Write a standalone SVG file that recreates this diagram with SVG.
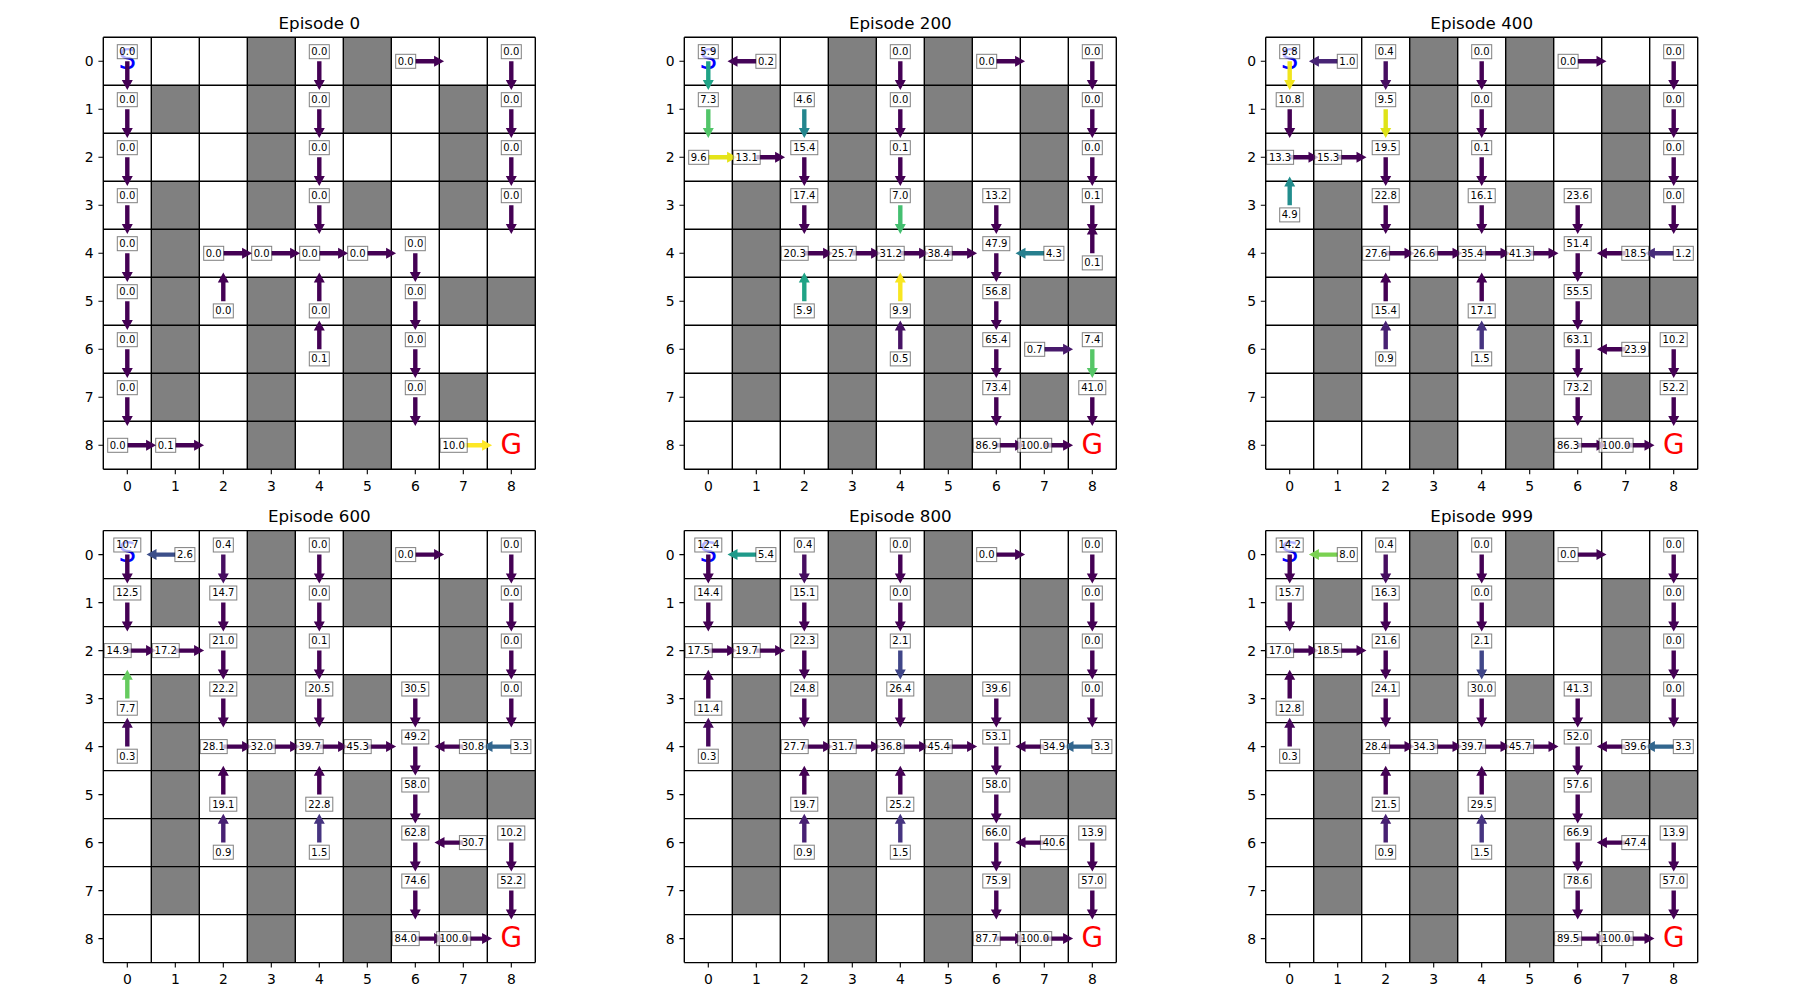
<svg xmlns="http://www.w3.org/2000/svg" xmlns:xlink="http://www.w3.org/1999/xlink" width="1800" height="1000" viewBox="0 0 1800 1000">
<style>
.gr{fill:#808080}
.ln{stroke:#000;stroke-width:1.4;fill:none}
.tk{stroke:#000;stroke-width:1.1;fill:none}
.tl text{font-family:"DejaVu Sans",sans-serif;font-size:13.9px;fill:#000;dominant-baseline:central}
.yl{text-anchor:end}
.xl{text-anchor:middle}
.tt{font-family:"DejaVu Sans",sans-serif;font-size:16.7px;fill:#000;text-anchor:middle}
.bx{fill:#fff;fill-opacity:.7;stroke:#000;stroke-opacity:.5;stroke-width:1}
.lb text{font-family:"DejaVu Sans",sans-serif;font-size:10px;fill:#000;text-anchor:middle;dominant-baseline:central}
.S{font-family:"DejaVu Sans",sans-serif;font-size:27.8px;fill:#0000ff;text-anchor:middle}
.G{font-family:"DejaVu Sans",sans-serif;font-size:27.8px;fill:#ff0000;text-anchor:middle}
</style>
<defs>
<path id="D" d="M-2.2,0H2.2V18.8H5.5L0,28.8L-5.5,18.8H-2.2Z"/>
<path id="U" d="M-2.2,0H2.2V-18.8H5.5L0,-28.8L-5.5,-18.8H-2.2Z"/>
<path id="R" d="M0,-2.2V2.2H18.8V5.5L28.8,0L18.8,-5.5V-2.2Z"/>
<path id="L" d="M0,-2.2V2.2H-18.8V5.5L-28.8,0L-18.8,-5.5V-2.2Z"/>
<rect id="b3" class="bx" x="-10" y="-7" width="20" height="14"/>
<rect id="b4" class="bx" x="-13.5" y="-7" width="27" height="14"/>
<rect id="b5" class="bx" x="-17" y="-7" width="34" height="14"/>
<g id="grid">
<rect width="432" height="432" fill="#fff"/>
<path class="gr" d="M48,48h48v48h-48z M48,144h48v240h-48z M144,0h48v192h-48z M144,240h48v192h-48z M240,0h48v96h-48z M240,144h48v48h-48z M240,240h48v192h-48z M336,48h48v144h-48z M336,240h96v48h-96z M336,336h48v48h-48z"/>
<path class="ln" d="M0,0H432M0,48H432M0,96H432M0,144H432M0,192H432M0,240H432M0,288H432M0,336H432M0,384H432M0,432H432M0,0V432M48,0V432M96,0V432M144,0V432M192,0V432M240,0V432M288,0V432M336,0V432M384,0V432M432,0V432"/>
<path class="tk" d="M-4.9,24H0M-4.9,72H0M-4.9,120H0M-4.9,168H0M-4.9,216H0M-4.9,264H0M-4.9,312H0M-4.9,360H0M-4.9,408H0M24,432V436.9M72,432V436.9M120,432V436.9M168,432V436.9M216,432V436.9M264,432V436.9M312,432V436.9M360,432V436.9M408,432V436.9"/>
</g>
</defs>
<rect width="1800" height="1000" fill="#fff"/>

<!-- Episode 0 -->
<g id="ep0" transform="translate(103.3,37.3)">
<text class="tt" x="216" y="-8.3">Episode 0</text>
<use href="#grid"/>
<g class="tl">
<text class="yl" x="-9.7" y="24">0</text><text class="yl" x="-9.7" y="72">1</text><text class="yl" x="-9.7" y="120">2</text><text class="yl" x="-9.7" y="168">3</text><text class="yl" x="-9.7" y="216">4</text><text class="yl" x="-9.7" y="264">5</text><text class="yl" x="-9.7" y="312">6</text><text class="yl" x="-9.7" y="360">7</text><text class="yl" x="-9.7" y="408">8</text>
<text class="xl" x="24" y="448.3">0</text><text class="xl" x="72" y="448.3">1</text><text class="xl" x="120" y="448.3">2</text><text class="xl" x="168" y="448.3">3</text><text class="xl" x="216" y="448.3">4</text><text class="xl" x="264" y="448.3">5</text><text class="xl" x="312" y="448.3">6</text><text class="xl" x="360" y="448.3">7</text><text class="xl" x="408" y="448.3">8</text>
</g>
<text class="S" x="24" y="31.5">S</text>
<text class="G" x="408" y="416.5">G</text>
<g id="ep0-arrows" fill="#440154">
<use href="#D" x="24" y="24"/><use href="#D" x="216" y="24"/><use href="#R" x="312" y="24"/><use href="#D" x="408" y="24"/>
<use href="#D" x="24" y="72"/><use href="#D" x="216" y="72"/><use href="#D" x="408" y="72"/>
<use href="#D" x="24" y="120"/><use href="#D" x="216" y="120"/><use href="#D" x="408" y="120"/>
<use href="#D" x="24" y="168"/><use href="#D" x="216" y="168"/><use href="#D" x="408" y="168"/>
<use href="#D" x="24" y="216"/><use href="#R" x="120" y="216"/><use href="#R" x="168" y="216"/><use href="#R" x="216" y="216"/><use href="#R" x="264" y="216"/><use href="#D" x="312" y="216"/>
<use href="#D" x="24" y="264"/><use href="#U" x="120" y="264"/><use href="#U" x="216" y="264"/><use href="#D" x="312" y="264"/>
<use href="#D" x="24" y="312"/><use href="#U" x="216" y="312"/><use href="#D" x="312" y="312"/>
<use href="#D" x="24" y="360"/><use href="#D" x="312" y="360"/>
<use href="#R" x="24" y="408"/><use href="#R" x="72" y="408"/><use href="#R" x="360" y="408" fill="#fde725"/>
</g>
<g class="lb">
<use href="#b3" x="24" y="14.4"/><text x="24" y="14.4">0.0</text>
<use href="#b3" x="216" y="14.4"/><text x="216" y="14.4">0.0</text>
<use href="#b3" x="302.4" y="24"/><text x="302.4" y="24">0.0</text>
<use href="#b3" x="408" y="14.4"/><text x="408" y="14.4">0.0</text>
<use href="#b3" x="24" y="62.4"/><text x="24" y="62.4">0.0</text>
<use href="#b3" x="216" y="62.4"/><text x="216" y="62.4">0.0</text>
<use href="#b3" x="408" y="62.4"/><text x="408" y="62.4">0.0</text>
<use href="#b3" x="24" y="110.4"/><text x="24" y="110.4">0.0</text>
<use href="#b3" x="216" y="110.4"/><text x="216" y="110.4">0.0</text>
<use href="#b3" x="408" y="110.4"/><text x="408" y="110.4">0.0</text>
<use href="#b3" x="24" y="158.4"/><text x="24" y="158.4">0.0</text>
<use href="#b3" x="216" y="158.4"/><text x="216" y="158.4">0.0</text>
<use href="#b3" x="408" y="158.4"/><text x="408" y="158.4">0.0</text>
<use href="#b3" x="24" y="206.4"/><text x="24" y="206.4">0.0</text>
<use href="#b3" x="110.4" y="216"/><text x="110.4" y="216">0.0</text>
<use href="#b3" x="158.4" y="216"/><text x="158.4" y="216">0.0</text>
<use href="#b3" x="206.4" y="216"/><text x="206.4" y="216">0.0</text>
<use href="#b3" x="254.4" y="216"/><text x="254.4" y="216">0.0</text>
<use href="#b3" x="312" y="206.4"/><text x="312" y="206.4">0.0</text>
<use href="#b3" x="24" y="254.4"/><text x="24" y="254.4">0.0</text>
<use href="#b3" x="120" y="273.6"/><text x="120" y="273.6">0.0</text>
<use href="#b3" x="216" y="273.6"/><text x="216" y="273.6">0.0</text>
<use href="#b3" x="312" y="254.4"/><text x="312" y="254.4">0.0</text>
<use href="#b3" x="24" y="302.4"/><text x="24" y="302.4">0.0</text>
<use href="#b3" x="216" y="321.6"/><text x="216" y="321.6">0.1</text>
<use href="#b3" x="312" y="302.4"/><text x="312" y="302.4">0.0</text>
<use href="#b3" x="24" y="350.4"/><text x="24" y="350.4">0.0</text>
<use href="#b3" x="312" y="350.4"/><text x="312" y="350.4">0.0</text>
<use href="#b3" x="14.4" y="408"/><text x="14.4" y="408">0.0</text>
<use href="#b3" x="62.4" y="408"/><text x="62.4" y="408">0.1</text>
<use href="#b4" x="350.4" y="408"/><text x="350.4" y="408">10.0</text>
</g>
</g>

<!-- Episode 200 -->
<g id="ep200" transform="translate(684.3,37.3)">
<text class="tt" x="216" y="-8.3">Episode 200</text>
<use href="#grid"/>
<g class="tl">
<text class="yl" x="-9.7" y="24">0</text><text class="yl" x="-9.7" y="72">1</text><text class="yl" x="-9.7" y="120">2</text><text class="yl" x="-9.7" y="168">3</text><text class="yl" x="-9.7" y="216">4</text><text class="yl" x="-9.7" y="264">5</text><text class="yl" x="-9.7" y="312">6</text><text class="yl" x="-9.7" y="360">7</text><text class="yl" x="-9.7" y="408">8</text>
<text class="xl" x="24" y="448.3">0</text><text class="xl" x="72" y="448.3">1</text><text class="xl" x="120" y="448.3">2</text><text class="xl" x="168" y="448.3">3</text><text class="xl" x="216" y="448.3">4</text><text class="xl" x="264" y="448.3">5</text><text class="xl" x="312" y="448.3">6</text><text class="xl" x="360" y="448.3">7</text><text class="xl" x="408" y="448.3">8</text>
</g>
<text class="S" x="24" y="31.5">S</text>
<text class="G" x="408" y="416.5">G</text>
<g id="ep200-arrows" fill="#440154">
<use href="#D" x="24" y="24" fill="#20a386"/><use href="#L" x="72" y="24" fill="#450559"/><use href="#D" x="216" y="24"/><use href="#R" x="312" y="24"/><use href="#D" x="408" y="24"/>
<use href="#D" x="24" y="72" fill="#52c569"/><use href="#D" x="120" y="72" fill="#24868e"/><use href="#D" x="216" y="72"/><use href="#D" x="408" y="72"/>
<use href="#R" x="24" y="120" fill="#e5e419"/><use href="#R" x="72" y="120"/><use href="#D" x="120" y="120"/><use href="#D" x="216" y="120"/><use href="#D" x="408" y="120"/>
<use href="#D" x="120" y="168"/><use href="#D" x="216" y="168" fill="#44bf70"/><use href="#D" x="312" y="168"/><use href="#D" x="408" y="168"/>
<use href="#R" x="120" y="216"/><use href="#R" x="168" y="216"/><use href="#R" x="216" y="216"/><use href="#R" x="264" y="216"/><use href="#D" x="312" y="216"/><use href="#L" x="360" y="216" fill="#277f8e"/><use href="#U" x="408" y="216"/>
<use href="#U" x="120" y="264" fill="#20a386"/><use href="#U" x="216" y="264" fill="#f8e621"/><use href="#D" x="312" y="264"/>
<use href="#U" x="216" y="312" fill="#471365"/><use href="#D" x="312" y="312"/><use href="#R" x="360" y="312" fill="#481a6c"/><use href="#D" x="408" y="312" fill="#56c667"/>
<use href="#D" x="312" y="360"/><use href="#D" x="408" y="360"/>
<use href="#R" x="312" y="408"/><use href="#R" x="360" y="408"/>
</g>
<g class="lb">
<use href="#b3" x="24" y="14.4"/><text x="24" y="14.4">5.9</text>
<use href="#b3" x="81.6" y="24"/><text x="81.6" y="24">0.2</text>
<use href="#b3" x="216" y="14.4"/><text x="216" y="14.4">0.0</text>
<use href="#b3" x="302.4" y="24"/><text x="302.4" y="24">0.0</text>
<use href="#b3" x="408" y="14.4"/><text x="408" y="14.4">0.0</text>
<use href="#b3" x="24" y="62.4"/><text x="24" y="62.4">7.3</text>
<use href="#b3" x="120" y="62.4"/><text x="120" y="62.4">4.6</text>
<use href="#b3" x="216" y="62.4"/><text x="216" y="62.4">0.0</text>
<use href="#b3" x="408" y="62.4"/><text x="408" y="62.4">0.0</text>
<use href="#b3" x="14.4" y="120"/><text x="14.4" y="120">9.6</text>
<use href="#b4" x="62.4" y="120"/><text x="62.4" y="120">13.1</text>
<use href="#b4" x="120" y="110.4"/><text x="120" y="110.4">15.4</text>
<use href="#b3" x="216" y="110.4"/><text x="216" y="110.4">0.1</text>
<use href="#b3" x="408" y="110.4"/><text x="408" y="110.4">0.0</text>
<use href="#b4" x="120" y="158.4"/><text x="120" y="158.4">17.4</text>
<use href="#b3" x="216" y="158.4"/><text x="216" y="158.4">7.0</text>
<use href="#b4" x="312" y="158.4"/><text x="312" y="158.4">13.2</text>
<use href="#b3" x="408" y="158.4"/><text x="408" y="158.4">0.1</text>
<use href="#b4" x="110.4" y="216"/><text x="110.4" y="216">20.3</text>
<use href="#b4" x="158.4" y="216"/><text x="158.4" y="216">25.7</text>
<use href="#b4" x="206.4" y="216"/><text x="206.4" y="216">31.2</text>
<use href="#b4" x="254.4" y="216"/><text x="254.4" y="216">38.4</text>
<use href="#b4" x="312" y="206.4"/><text x="312" y="206.4">47.9</text>
<use href="#b3" x="369.6" y="216"/><text x="369.6" y="216">4.3</text>
<use href="#b3" x="408" y="225.6"/><text x="408" y="225.6">0.1</text>
<use href="#b3" x="120" y="273.6"/><text x="120" y="273.6">5.9</text>
<use href="#b3" x="216" y="273.6"/><text x="216" y="273.6">9.9</text>
<use href="#b4" x="312" y="254.4"/><text x="312" y="254.4">56.8</text>
<use href="#b3" x="216" y="321.6"/><text x="216" y="321.6">0.5</text>
<use href="#b4" x="312" y="302.4"/><text x="312" y="302.4">65.4</text>
<use href="#b3" x="350.4" y="312"/><text x="350.4" y="312">0.7</text>
<use href="#b3" x="408" y="302.4"/><text x="408" y="302.4">7.4</text>
<use href="#b4" x="312" y="350.4"/><text x="312" y="350.4">73.4</text>
<use href="#b4" x="408" y="350.4"/><text x="408" y="350.4">41.0</text>
<use href="#b4" x="302.4" y="408"/><text x="302.4" y="408">86.9</text>
<use href="#b5" x="350.4" y="408"/><text x="350.4" y="408">100.0</text>
</g>
</g>

<!-- Episode 400 -->
<g id="ep400" transform="translate(1265.7,37.3)">
<text class="tt" x="216" y="-8.3">Episode 400</text>
<use href="#grid"/>
<g class="tl">
<text class="yl" x="-9.7" y="24">0</text><text class="yl" x="-9.7" y="72">1</text><text class="yl" x="-9.7" y="120">2</text><text class="yl" x="-9.7" y="168">3</text><text class="yl" x="-9.7" y="216">4</text><text class="yl" x="-9.7" y="264">5</text><text class="yl" x="-9.7" y="312">6</text><text class="yl" x="-9.7" y="360">7</text><text class="yl" x="-9.7" y="408">8</text>
<text class="xl" x="24" y="448.3">0</text><text class="xl" x="72" y="448.3">1</text><text class="xl" x="120" y="448.3">2</text><text class="xl" x="168" y="448.3">3</text><text class="xl" x="216" y="448.3">4</text><text class="xl" x="264" y="448.3">5</text><text class="xl" x="312" y="448.3">6</text><text class="xl" x="360" y="448.3">7</text><text class="xl" x="408" y="448.3">8</text>
</g>
<text class="S" x="24" y="31.5">S</text>
<text class="G" x="408" y="416.5">G</text>
<g id="ep400-arrows" fill="#440154">
<use href="#D" x="24" y="24" fill="#f1e51d"/><use href="#L" x="72" y="24" fill="#482475"/><use href="#D" x="120" y="24" fill="#470e61"/><use href="#D" x="216" y="24"/><use href="#R" x="312" y="24"/><use href="#D" x="408" y="24"/>
<use href="#D" x="24" y="72"/><use href="#D" x="120" y="72" fill="#dfe318"/><use href="#D" x="216" y="72"/><use href="#D" x="408" y="72"/>
<use href="#R" x="24" y="120"/><use href="#R" x="72" y="120"/><use href="#D" x="120" y="120"/><use href="#D" x="216" y="120"/><use href="#D" x="408" y="120"/>
<use href="#U" x="24" y="168" fill="#228d8d"/><use href="#D" x="120" y="168"/><use href="#D" x="216" y="168"/><use href="#D" x="312" y="168"/><use href="#D" x="408" y="168"/>
<use href="#R" x="120" y="216"/><use href="#R" x="168" y="216"/><use href="#R" x="216" y="216"/><use href="#R" x="264" y="216"/><use href="#D" x="312" y="216"/><use href="#L" x="360" y="216"/><use href="#L" x="408" y="216" fill="#472c7a"/>
<use href="#U" x="120" y="264"/><use href="#U" x="216" y="264"/><use href="#D" x="312" y="264"/>
<use href="#U" x="120" y="312" fill="#482173"/><use href="#U" x="216" y="312" fill="#463480"/><use href="#D" x="312" y="312"/><use href="#L" x="360" y="312"/><use href="#D" x="408" y="312"/>
<use href="#D" x="312" y="360"/><use href="#D" x="408" y="360"/>
<use href="#R" x="312" y="408"/><use href="#R" x="360" y="408"/>
</g>
<g class="lb">
<use href="#b3" x="24" y="14.4"/><text x="24" y="14.4">9.8</text>
<use href="#b3" x="81.6" y="24"/><text x="81.6" y="24">1.0</text>
<use href="#b3" x="120" y="14.4"/><text x="120" y="14.4">0.4</text>
<use href="#b3" x="216" y="14.4"/><text x="216" y="14.4">0.0</text>
<use href="#b3" x="302.4" y="24"/><text x="302.4" y="24">0.0</text>
<use href="#b3" x="408" y="14.4"/><text x="408" y="14.4">0.0</text>
<use href="#b4" x="24" y="62.4"/><text x="24" y="62.4">10.8</text>
<use href="#b3" x="120" y="62.4"/><text x="120" y="62.4">9.5</text>
<use href="#b3" x="216" y="62.4"/><text x="216" y="62.4">0.0</text>
<use href="#b3" x="408" y="62.4"/><text x="408" y="62.4">0.0</text>
<use href="#b4" x="14.4" y="120"/><text x="14.4" y="120">13.3</text>
<use href="#b4" x="62.4" y="120"/><text x="62.4" y="120">15.3</text>
<use href="#b4" x="120" y="110.4"/><text x="120" y="110.4">19.5</text>
<use href="#b3" x="216" y="110.4"/><text x="216" y="110.4">0.1</text>
<use href="#b3" x="408" y="110.4"/><text x="408" y="110.4">0.0</text>
<use href="#b3" x="24" y="177.6"/><text x="24" y="177.6">4.9</text>
<use href="#b4" x="120" y="158.4"/><text x="120" y="158.4">22.8</text>
<use href="#b4" x="216" y="158.4"/><text x="216" y="158.4">16.1</text>
<use href="#b4" x="312" y="158.4"/><text x="312" y="158.4">23.6</text>
<use href="#b3" x="408" y="158.4"/><text x="408" y="158.4">0.0</text>
<use href="#b4" x="110.4" y="216"/><text x="110.4" y="216">27.6</text>
<use href="#b4" x="158.4" y="216"/><text x="158.4" y="216">26.6</text>
<use href="#b4" x="206.4" y="216"/><text x="206.4" y="216">35.4</text>
<use href="#b4" x="254.4" y="216"/><text x="254.4" y="216">41.3</text>
<use href="#b4" x="312" y="206.4"/><text x="312" y="206.4">51.4</text>
<use href="#b4" x="369.6" y="216"/><text x="369.6" y="216">18.5</text>
<use href="#b3" x="417.6" y="216"/><text x="417.6" y="216">1.2</text>
<use href="#b4" x="120" y="273.6"/><text x="120" y="273.6">15.4</text>
<use href="#b4" x="216" y="273.6"/><text x="216" y="273.6">17.1</text>
<use href="#b4" x="312" y="254.4"/><text x="312" y="254.4">55.5</text>
<use href="#b3" x="120" y="321.6"/><text x="120" y="321.6">0.9</text>
<use href="#b3" x="216" y="321.6"/><text x="216" y="321.6">1.5</text>
<use href="#b4" x="312" y="302.4"/><text x="312" y="302.4">63.1</text>
<use href="#b4" x="369.6" y="312"/><text x="369.6" y="312">23.9</text>
<use href="#b4" x="408" y="302.4"/><text x="408" y="302.4">10.2</text>
<use href="#b4" x="312" y="350.4"/><text x="312" y="350.4">73.2</text>
<use href="#b4" x="408" y="350.4"/><text x="408" y="350.4">52.2</text>
<use href="#b4" x="302.4" y="408"/><text x="302.4" y="408">86.3</text>
<use href="#b5" x="350.4" y="408"/><text x="350.4" y="408">100.0</text>
</g>
</g>

<!-- Episode 600 -->
<g id="ep600" transform="translate(103.3,530.6)">
<text class="tt" x="216" y="-8.3">Episode 600</text>
<use href="#grid"/>
<g class="tl">
<text class="yl" x="-9.7" y="24">0</text><text class="yl" x="-9.7" y="72">1</text><text class="yl" x="-9.7" y="120">2</text><text class="yl" x="-9.7" y="168">3</text><text class="yl" x="-9.7" y="216">4</text><text class="yl" x="-9.7" y="264">5</text><text class="yl" x="-9.7" y="312">6</text><text class="yl" x="-9.7" y="360">7</text><text class="yl" x="-9.7" y="408">8</text>
<text class="xl" x="24" y="448.3">0</text><text class="xl" x="72" y="448.3">1</text><text class="xl" x="120" y="448.3">2</text><text class="xl" x="168" y="448.3">3</text><text class="xl" x="216" y="448.3">4</text><text class="xl" x="264" y="448.3">5</text><text class="xl" x="312" y="448.3">6</text><text class="xl" x="360" y="448.3">7</text><text class="xl" x="408" y="448.3">8</text>
</g>
<text class="S" x="24" y="31.5">S</text>
<text class="G" x="408" y="416.5">G</text>
<g id="ep600-arrows" fill="#440154">
<use href="#D" x="24" y="24"/><use href="#L" x="72" y="24" fill="#3c4f8a"/><use href="#D" x="120" y="24" fill="#470e61"/><use href="#D" x="216" y="24"/><use href="#R" x="312" y="24"/><use href="#D" x="408" y="24"/>
<use href="#D" x="24" y="72"/><use href="#D" x="120" y="72"/><use href="#D" x="216" y="72"/><use href="#D" x="408" y="72"/>
<use href="#R" x="24" y="120"/><use href="#R" x="72" y="120"/><use href="#D" x="120" y="120"/><use href="#D" x="216" y="120"/><use href="#D" x="408" y="120"/>
<use href="#U" x="24" y="168" fill="#65cb5e"/><use href="#D" x="120" y="168"/><use href="#D" x="216" y="168"/><use href="#D" x="312" y="168"/><use href="#D" x="408" y="168"/>
<use href="#U" x="24" y="216" fill="#46085c"/><use href="#R" x="120" y="216"/><use href="#R" x="168" y="216"/><use href="#R" x="216" y="216"/><use href="#R" x="264" y="216"/><use href="#D" x="312" y="216"/><use href="#L" x="360" y="216"/><use href="#L" x="408" y="216" fill="#32668e"/>
<use href="#U" x="120" y="264"/><use href="#U" x="216" y="264"/><use href="#D" x="312" y="264"/>
<use href="#U" x="120" y="312" fill="#482173"/><use href="#U" x="216" y="312" fill="#463480"/><use href="#D" x="312" y="312"/><use href="#L" x="360" y="312"/><use href="#D" x="408" y="312"/>
<use href="#D" x="312" y="360"/><use href="#D" x="408" y="360"/>
<use href="#R" x="312" y="408"/><use href="#R" x="360" y="408"/>
</g>
<g class="lb">
<use href="#b4" x="24" y="14.4"/><text x="24" y="14.4">10.7</text>
<use href="#b3" x="81.6" y="24"/><text x="81.6" y="24">2.6</text>
<use href="#b3" x="120" y="14.4"/><text x="120" y="14.4">0.4</text>
<use href="#b3" x="216" y="14.4"/><text x="216" y="14.4">0.0</text>
<use href="#b3" x="302.4" y="24"/><text x="302.4" y="24">0.0</text>
<use href="#b3" x="408" y="14.4"/><text x="408" y="14.4">0.0</text>
<use href="#b4" x="24" y="62.4"/><text x="24" y="62.4">12.5</text>
<use href="#b4" x="120" y="62.4"/><text x="120" y="62.4">14.7</text>
<use href="#b3" x="216" y="62.4"/><text x="216" y="62.4">0.0</text>
<use href="#b3" x="408" y="62.4"/><text x="408" y="62.4">0.0</text>
<use href="#b4" x="14.4" y="120"/><text x="14.4" y="120">14.9</text>
<use href="#b4" x="62.4" y="120"/><text x="62.4" y="120">17.2</text>
<use href="#b4" x="120" y="110.4"/><text x="120" y="110.4">21.0</text>
<use href="#b3" x="216" y="110.4"/><text x="216" y="110.4">0.1</text>
<use href="#b3" x="408" y="110.4"/><text x="408" y="110.4">0.0</text>
<use href="#b3" x="24" y="177.6"/><text x="24" y="177.6">7.7</text>
<use href="#b4" x="120" y="158.4"/><text x="120" y="158.4">22.2</text>
<use href="#b4" x="216" y="158.4"/><text x="216" y="158.4">20.5</text>
<use href="#b4" x="312" y="158.4"/><text x="312" y="158.4">30.5</text>
<use href="#b3" x="408" y="158.4"/><text x="408" y="158.4">0.0</text>
<use href="#b3" x="24" y="225.6"/><text x="24" y="225.6">0.3</text>
<use href="#b4" x="110.4" y="216"/><text x="110.4" y="216">28.1</text>
<use href="#b4" x="158.4" y="216"/><text x="158.4" y="216">32.0</text>
<use href="#b4" x="206.4" y="216"/><text x="206.4" y="216">39.7</text>
<use href="#b4" x="254.4" y="216"/><text x="254.4" y="216">45.3</text>
<use href="#b4" x="312" y="206.4"/><text x="312" y="206.4">49.2</text>
<use href="#b4" x="369.6" y="216"/><text x="369.6" y="216">30.8</text>
<use href="#b3" x="417.6" y="216"/><text x="417.6" y="216">3.3</text>
<use href="#b4" x="120" y="273.6"/><text x="120" y="273.6">19.1</text>
<use href="#b4" x="216" y="273.6"/><text x="216" y="273.6">22.8</text>
<use href="#b4" x="312" y="254.4"/><text x="312" y="254.4">58.0</text>
<use href="#b3" x="120" y="321.6"/><text x="120" y="321.6">0.9</text>
<use href="#b3" x="216" y="321.6"/><text x="216" y="321.6">1.5</text>
<use href="#b4" x="312" y="302.4"/><text x="312" y="302.4">62.8</text>
<use href="#b4" x="369.6" y="312"/><text x="369.6" y="312">30.7</text>
<use href="#b4" x="408" y="302.4"/><text x="408" y="302.4">10.2</text>
<use href="#b4" x="312" y="350.4"/><text x="312" y="350.4">74.6</text>
<use href="#b4" x="408" y="350.4"/><text x="408" y="350.4">52.2</text>
<use href="#b4" x="302.4" y="408"/><text x="302.4" y="408">84.0</text>
<use href="#b5" x="350.4" y="408"/><text x="350.4" y="408">100.0</text>
</g>
</g>

<!-- Episode 800 -->
<g id="ep800" transform="translate(684.3,530.6)">
<text class="tt" x="216" y="-8.3">Episode 800</text>
<use href="#grid"/>
<g class="tl">
<text class="yl" x="-9.7" y="24">0</text><text class="yl" x="-9.7" y="72">1</text><text class="yl" x="-9.7" y="120">2</text><text class="yl" x="-9.7" y="168">3</text><text class="yl" x="-9.7" y="216">4</text><text class="yl" x="-9.7" y="264">5</text><text class="yl" x="-9.7" y="312">6</text><text class="yl" x="-9.7" y="360">7</text><text class="yl" x="-9.7" y="408">8</text>
<text class="xl" x="24" y="448.3">0</text><text class="xl" x="72" y="448.3">1</text><text class="xl" x="120" y="448.3">2</text><text class="xl" x="168" y="448.3">3</text><text class="xl" x="216" y="448.3">4</text><text class="xl" x="264" y="448.3">5</text><text class="xl" x="312" y="448.3">6</text><text class="xl" x="360" y="448.3">7</text><text class="xl" x="408" y="448.3">8</text>
</g>
<text class="S" x="24" y="31.5">S</text>
<text class="G" x="408" y="416.5">G</text>
<g id="ep800-arrows" fill="#440154">
<use href="#D" x="24" y="24"/><use href="#L" x="72" y="24" fill="#1f9a8a"/><use href="#D" x="120" y="24" fill="#470e61"/><use href="#D" x="216" y="24"/><use href="#R" x="312" y="24"/><use href="#D" x="408" y="24"/>
<use href="#D" x="24" y="72"/><use href="#D" x="120" y="72"/><use href="#D" x="216" y="72"/><use href="#D" x="408" y="72"/>
<use href="#R" x="24" y="120"/><use href="#R" x="72" y="120"/><use href="#D" x="120" y="120"/><use href="#D" x="216" y="120" fill="#404688"/><use href="#D" x="408" y="120"/>
<use href="#U" x="24" y="168"/><use href="#D" x="120" y="168"/><use href="#D" x="216" y="168"/><use href="#D" x="312" y="168"/><use href="#D" x="408" y="168"/>
<use href="#U" x="24" y="216" fill="#46085c"/><use href="#R" x="120" y="216"/><use href="#R" x="168" y="216"/><use href="#R" x="216" y="216"/><use href="#R" x="264" y="216"/><use href="#D" x="312" y="216"/><use href="#L" x="360" y="216"/><use href="#L" x="408" y="216" fill="#32668e"/>
<use href="#U" x="120" y="264"/><use href="#U" x="216" y="264"/><use href="#D" x="312" y="264"/>
<use href="#U" x="120" y="312" fill="#482173"/><use href="#U" x="216" y="312" fill="#463480"/><use href="#D" x="312" y="312"/><use href="#L" x="360" y="312"/><use href="#D" x="408" y="312"/>
<use href="#D" x="312" y="360"/><use href="#D" x="408" y="360"/>
<use href="#R" x="312" y="408"/><use href="#R" x="360" y="408"/>
</g>
<g class="lb">
<use href="#b4" x="24" y="14.4"/><text x="24" y="14.4">12.4</text>
<use href="#b3" x="81.6" y="24"/><text x="81.6" y="24">5.4</text>
<use href="#b3" x="120" y="14.4"/><text x="120" y="14.4">0.4</text>
<use href="#b3" x="216" y="14.4"/><text x="216" y="14.4">0.0</text>
<use href="#b3" x="302.4" y="24"/><text x="302.4" y="24">0.0</text>
<use href="#b3" x="408" y="14.4"/><text x="408" y="14.4">0.0</text>
<use href="#b4" x="24" y="62.4"/><text x="24" y="62.4">14.4</text>
<use href="#b4" x="120" y="62.4"/><text x="120" y="62.4">15.1</text>
<use href="#b3" x="216" y="62.4"/><text x="216" y="62.4">0.0</text>
<use href="#b3" x="408" y="62.4"/><text x="408" y="62.4">0.0</text>
<use href="#b4" x="14.4" y="120"/><text x="14.4" y="120">17.5</text>
<use href="#b4" x="62.4" y="120"/><text x="62.4" y="120">19.7</text>
<use href="#b4" x="120" y="110.4"/><text x="120" y="110.4">22.3</text>
<use href="#b3" x="216" y="110.4"/><text x="216" y="110.4">2.1</text>
<use href="#b3" x="408" y="110.4"/><text x="408" y="110.4">0.0</text>
<use href="#b4" x="24" y="177.6"/><text x="24" y="177.6">11.4</text>
<use href="#b4" x="120" y="158.4"/><text x="120" y="158.4">24.8</text>
<use href="#b4" x="216" y="158.4"/><text x="216" y="158.4">26.4</text>
<use href="#b4" x="312" y="158.4"/><text x="312" y="158.4">39.6</text>
<use href="#b3" x="408" y="158.4"/><text x="408" y="158.4">0.0</text>
<use href="#b3" x="24" y="225.6"/><text x="24" y="225.6">0.3</text>
<use href="#b4" x="110.4" y="216"/><text x="110.4" y="216">27.7</text>
<use href="#b4" x="158.4" y="216"/><text x="158.4" y="216">31.7</text>
<use href="#b4" x="206.4" y="216"/><text x="206.4" y="216">36.8</text>
<use href="#b4" x="254.4" y="216"/><text x="254.4" y="216">45.4</text>
<use href="#b4" x="312" y="206.4"/><text x="312" y="206.4">53.1</text>
<use href="#b4" x="369.6" y="216"/><text x="369.6" y="216">34.9</text>
<use href="#b3" x="417.6" y="216"/><text x="417.6" y="216">3.3</text>
<use href="#b4" x="120" y="273.6"/><text x="120" y="273.6">19.7</text>
<use href="#b4" x="216" y="273.6"/><text x="216" y="273.6">25.2</text>
<use href="#b4" x="312" y="254.4"/><text x="312" y="254.4">58.0</text>
<use href="#b3" x="120" y="321.6"/><text x="120" y="321.6">0.9</text>
<use href="#b3" x="216" y="321.6"/><text x="216" y="321.6">1.5</text>
<use href="#b4" x="312" y="302.4"/><text x="312" y="302.4">66.0</text>
<use href="#b4" x="369.6" y="312"/><text x="369.6" y="312">40.6</text>
<use href="#b4" x="408" y="302.4"/><text x="408" y="302.4">13.9</text>
<use href="#b4" x="312" y="350.4"/><text x="312" y="350.4">75.9</text>
<use href="#b4" x="408" y="350.4"/><text x="408" y="350.4">57.0</text>
<use href="#b4" x="302.4" y="408"/><text x="302.4" y="408">87.7</text>
<use href="#b5" x="350.4" y="408"/><text x="350.4" y="408">100.0</text>
</g>
</g>

<!-- Episode 999 -->
<g id="ep999" transform="translate(1265.7,530.6)">
<text class="tt" x="216" y="-8.3">Episode 999</text>
<use href="#grid"/>
<g class="tl">
<text class="yl" x="-9.7" y="24">0</text><text class="yl" x="-9.7" y="72">1</text><text class="yl" x="-9.7" y="120">2</text><text class="yl" x="-9.7" y="168">3</text><text class="yl" x="-9.7" y="216">4</text><text class="yl" x="-9.7" y="264">5</text><text class="yl" x="-9.7" y="312">6</text><text class="yl" x="-9.7" y="360">7</text><text class="yl" x="-9.7" y="408">8</text>
<text class="xl" x="24" y="448.3">0</text><text class="xl" x="72" y="448.3">1</text><text class="xl" x="120" y="448.3">2</text><text class="xl" x="168" y="448.3">3</text><text class="xl" x="216" y="448.3">4</text><text class="xl" x="264" y="448.3">5</text><text class="xl" x="312" y="448.3">6</text><text class="xl" x="360" y="448.3">7</text><text class="xl" x="408" y="448.3">8</text>
</g>
<text class="S" x="24" y="31.5">S</text>
<text class="G" x="408" y="416.5">G</text>
<g id="ep999-arrows" fill="#440154">
<use href="#D" x="24" y="24"/><use href="#L" x="72" y="24" fill="#7ad151"/><use href="#D" x="120" y="24" fill="#470e61"/><use href="#D" x="216" y="24"/><use href="#R" x="312" y="24"/><use href="#D" x="408" y="24"/>
<use href="#D" x="24" y="72"/><use href="#D" x="120" y="72"/><use href="#D" x="216" y="72"/><use href="#D" x="408" y="72"/>
<use href="#R" x="24" y="120"/><use href="#R" x="72" y="120"/><use href="#D" x="120" y="120"/><use href="#D" x="216" y="120" fill="#404688"/><use href="#D" x="408" y="120"/>
<use href="#U" x="24" y="168"/><use href="#D" x="120" y="168"/><use href="#D" x="216" y="168"/><use href="#D" x="312" y="168"/><use href="#D" x="408" y="168"/>
<use href="#U" x="24" y="216" fill="#46085c"/><use href="#R" x="120" y="216"/><use href="#R" x="168" y="216"/><use href="#R" x="216" y="216"/><use href="#R" x="264" y="216"/><use href="#D" x="312" y="216"/><use href="#L" x="360" y="216"/><use href="#L" x="408" y="216" fill="#32668e"/>
<use href="#U" x="120" y="264"/><use href="#U" x="216" y="264"/><use href="#D" x="312" y="264"/>
<use href="#U" x="120" y="312" fill="#482173"/><use href="#U" x="216" y="312" fill="#463480"/><use href="#D" x="312" y="312"/><use href="#L" x="360" y="312"/><use href="#D" x="408" y="312"/>
<use href="#D" x="312" y="360"/><use href="#D" x="408" y="360"/>
<use href="#R" x="312" y="408"/><use href="#R" x="360" y="408"/>
</g>
<g class="lb">
<use href="#b4" x="24" y="14.4"/><text x="24" y="14.4">14.2</text>
<use href="#b3" x="81.6" y="24"/><text x="81.6" y="24">8.0</text>
<use href="#b3" x="120" y="14.4"/><text x="120" y="14.4">0.4</text>
<use href="#b3" x="216" y="14.4"/><text x="216" y="14.4">0.0</text>
<use href="#b3" x="302.4" y="24"/><text x="302.4" y="24">0.0</text>
<use href="#b3" x="408" y="14.4"/><text x="408" y="14.4">0.0</text>
<use href="#b4" x="24" y="62.4"/><text x="24" y="62.4">15.7</text>
<use href="#b4" x="120" y="62.4"/><text x="120" y="62.4">16.3</text>
<use href="#b3" x="216" y="62.4"/><text x="216" y="62.4">0.0</text>
<use href="#b3" x="408" y="62.4"/><text x="408" y="62.4">0.0</text>
<use href="#b4" x="14.4" y="120"/><text x="14.4" y="120">17.0</text>
<use href="#b4" x="62.4" y="120"/><text x="62.4" y="120">18.5</text>
<use href="#b4" x="120" y="110.4"/><text x="120" y="110.4">21.6</text>
<use href="#b3" x="216" y="110.4"/><text x="216" y="110.4">2.1</text>
<use href="#b3" x="408" y="110.4"/><text x="408" y="110.4">0.0</text>
<use href="#b4" x="24" y="177.6"/><text x="24" y="177.6">12.8</text>
<use href="#b4" x="120" y="158.4"/><text x="120" y="158.4">24.1</text>
<use href="#b4" x="216" y="158.4"/><text x="216" y="158.4">30.0</text>
<use href="#b4" x="312" y="158.4"/><text x="312" y="158.4">41.3</text>
<use href="#b3" x="408" y="158.4"/><text x="408" y="158.4">0.0</text>
<use href="#b3" x="24" y="225.6"/><text x="24" y="225.6">0.3</text>
<use href="#b4" x="110.4" y="216"/><text x="110.4" y="216">28.4</text>
<use href="#b4" x="158.4" y="216"/><text x="158.4" y="216">34.3</text>
<use href="#b4" x="206.4" y="216"/><text x="206.4" y="216">39.7</text>
<use href="#b4" x="254.4" y="216"/><text x="254.4" y="216">45.7</text>
<use href="#b4" x="312" y="206.4"/><text x="312" y="206.4">52.0</text>
<use href="#b4" x="369.6" y="216"/><text x="369.6" y="216">39.6</text>
<use href="#b3" x="417.6" y="216"/><text x="417.6" y="216">3.3</text>
<use href="#b4" x="120" y="273.6"/><text x="120" y="273.6">21.5</text>
<use href="#b4" x="216" y="273.6"/><text x="216" y="273.6">29.5</text>
<use href="#b4" x="312" y="254.4"/><text x="312" y="254.4">57.6</text>
<use href="#b3" x="120" y="321.6"/><text x="120" y="321.6">0.9</text>
<use href="#b3" x="216" y="321.6"/><text x="216" y="321.6">1.5</text>
<use href="#b4" x="312" y="302.4"/><text x="312" y="302.4">66.9</text>
<use href="#b4" x="369.6" y="312"/><text x="369.6" y="312">47.4</text>
<use href="#b4" x="408" y="302.4"/><text x="408" y="302.4">13.9</text>
<use href="#b4" x="312" y="350.4"/><text x="312" y="350.4">78.6</text>
<use href="#b4" x="408" y="350.4"/><text x="408" y="350.4">57.0</text>
<use href="#b4" x="302.4" y="408"/><text x="302.4" y="408">89.5</text>
<use href="#b5" x="350.4" y="408"/><text x="350.4" y="408">100.0</text>
</g>
</g>
</svg>
